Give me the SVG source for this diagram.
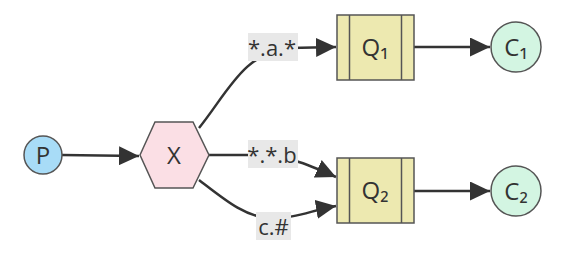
<svg xmlns="http://www.w3.org/2000/svg" width="570" height="256" viewBox="0 0 570 256">
<style>
.node{stroke:#555;stroke-width:1.5}
.t{font-family:"Open Sans","DejaVu Sans",sans-serif;font-size:24px;fill:#333;text-anchor:middle}
.l{font-family:"Open Sans","DejaVu Sans",sans-serif;font-size:22px;fill:#333;text-anchor:middle}
.edge{fill:none;stroke:#333;stroke-width:2.5}
.lbg{fill:#e8e8e8}
</style>
<defs>
<marker id="ah" viewBox="0 0 10 10" refX="10" refY="5" markerWidth="20" markerHeight="19" markerUnits="userSpaceOnUse" orient="auto" preserveAspectRatio="none">
<path d="M0,0 L10,5 L0,10 z" fill="#333"/>
</marker>
</defs>
<g id="connectors">
<path class="edge" d="M62,155 L139,156" marker-end="url(#ah)"/>
<path class="edge" d="M199,128 C228,92 244,52 290,48 L336,47" marker-end="url(#ah)"/>
<path class="edge" d="M209,155 L255,155 C285,155 305,163 336,177" marker-end="url(#ah)"/>
<path class="edge" d="M199,180 C225,200 245,217 270,218 C295,219 312,210 336,206" marker-end="url(#ah)"/>
<path class="edge" d="M414,47 L490,47" marker-end="url(#ah)"/>
<path class="edge" d="M414,191 L490,191" marker-end="url(#ah)"/>
</g>
<g id="labels">
<rect class="lbg" x="248" y="33" width="50" height="28"/>
<text class="l" x="272" y="56">*.a.*</text>
<rect class="lbg" x="248" y="140" width="50" height="28"/>
<text class="l" x="272" y="163">*.*.b</text>
<rect class="lbg" x="256" y="212" width="35" height="28"/>
<text class="l" x="273.5" y="235">c.#</text>
</g>
<g id="P">
<circle class="node" cx="43" cy="155" r="19" fill="#a8dcf7"/>
<text class="t" x="43" y="163.5">P</text>
</g>
<g id="X">
<polygon class="node" points="140,155 155,122 193,122 209,155 193,188 155,188" fill="#fbdfe5"/>
<text class="t" x="174" y="163.5">X</text>
</g>
<g id="Q1">
<rect class="node" x="337" y="15" width="77" height="65" fill="#ede9b0"/>
<line class="node" x1="349.5" y1="15" x2="349.5" y2="80"/>
<line class="node" x1="401.5" y1="15" x2="401.5" y2="80"/>
<text class="t" x="375" y="56">Q₁</text>
</g>
<g id="Q2">
<rect class="node" x="337" y="158" width="77" height="65" fill="#ede9b0"/>
<line class="node" x1="349.5" y1="158" x2="349.5" y2="223"/>
<line class="node" x1="401.5" y1="158" x2="401.5" y2="223"/>
<text class="t" x="375" y="199">Q₂</text>
</g>
<g id="C1">
<circle class="node" cx="516" cy="47" r="25" fill="#d3f5e2"/>
<text class="t" x="516" y="56">C₁</text>
</g>
<g id="C2">
<circle class="node" cx="516" cy="191" r="25" fill="#d3f5e2"/>
<text class="t" x="516" y="200">C₂</text>
</g>
</svg>
